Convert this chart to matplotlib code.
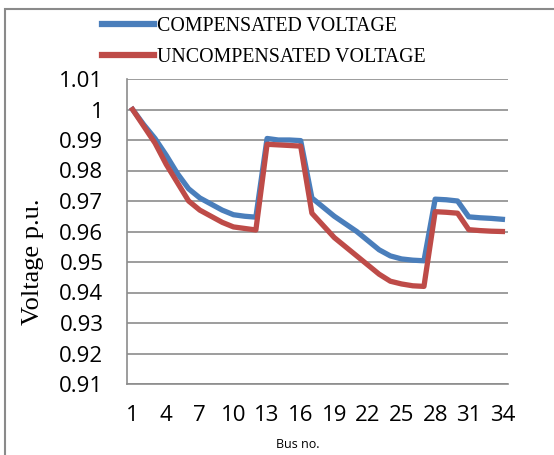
import matplotlib
matplotlib.use('Agg')
import matplotlib.pyplot as plt
from matplotlib.patches import Rectangle

bus = list(range(1, 35))
compensated = [1.000, 0.995, 0.9905, 0.985, 0.979, 0.974, 0.971, 0.969, 0.967, 0.9655,
               0.965, 0.9647, 0.9905, 0.990, 0.990, 0.9898, 0.971, 0.968, 0.965, 0.9625,
               0.960, 0.957, 0.954, 0.952, 0.951, 0.9506, 0.9504, 0.9706, 0.9704, 0.970,
               0.9648, 0.9645, 0.9643, 0.964]
uncompensated = [1.000, 0.9945, 0.989, 0.982, 0.976, 0.970, 0.967, 0.965, 0.963, 0.9615,
                 0.961, 0.9605, 0.9886, 0.9884, 0.9882, 0.988, 0.966, 0.962, 0.958, 0.955,
                 0.952, 0.949, 0.946, 0.9437, 0.9428, 0.9422, 0.942, 0.9665, 0.9663, 0.966,
                 0.9606, 0.9603, 0.9601, 0.960]
xticks = list(range(1, 35, 3))
yticks = [0.91, 0.92, 0.93, 0.94, 0.95, 0.96, 0.97, 0.98, 0.99, 1.0, 1.01]
ylabels = ['0.91', '0.92', '0.93', '0.94', '0.95', '0.96', '0.97', '0.98', '0.99', '1', '1.01']

blue = '#4A7EBB'
red = '#BE4B48'
grid = '#8C8C8C'

fig = plt.figure(figsize=(5.54, 4.55), dpi=100)
ax = fig.add_axes([127/554, 1-384/455, 381/554, 305/455])

l1, = ax.plot(bus, compensated, color=blue, lw=3.8, solid_joinstyle='round')
l2, = ax.plot(bus, uncompensated, color=red, lw=3.8, solid_joinstyle='round')

ax.set_xlim(0.5, 34.5)
ax.set_ylim(0.91, 1.01)
ax.set_yticks(yticks)
ax.set_yticklabels(ylabels, fontfamily='Open Sans', fontsize=16)
ax.set_xticks(xticks)
ax.set_xticklabels([str(x) for x in xticks], fontfamily='Open Sans', fontsize=16)
ax.tick_params(length=0)
ax.tick_params(axis='x', pad=15)
ax.tick_params(axis='y', pad=17)
ax.grid(axis='y', color=grid, lw=1.2)
ax.set_axisbelow(True)
for s in ['top', 'right']:
    ax.spines[s].set_visible(False)
for s in ['left', 'bottom']:
    ax.spines[s].set_color(grid)
    ax.spines[s].set_linewidth(1.2)

fig.text(33/554, 1-262/455, 'Voltage p.u.', rotation=90, ha='center', va='center',
         fontfamily='Liberation Serif', fontsize=19)
fig.text(298/554, 1-444/455, 'Bus no.', ha='center', va='center',
         fontfamily='Open Sans', fontsize=9)

leg = fig.legend([l1, l2], ['COMPENSATED VOLTAGE', 'UNCOMPENSATED VOLTAGE'],
                 loc='upper left', bbox_to_anchor=(84/554, 1 + 1/455), frameon=False,
                 prop={'family': 'Liberation Serif', 'size': 14.3},
                 handlelength=2.6, handletextpad=0.2, labelspacing=0.6)
for h in leg.legend_handles:
    h.set_linewidth(4.5)

fig.patches.append(Rectangle((5/554, -0.1), 1.0, 1.1 - 9/455, transform=fig.transFigure,
                             fill=False, edgecolor='#8A8A8A', lw=1.5))

fig.savefig('out.png', dpi=100)
